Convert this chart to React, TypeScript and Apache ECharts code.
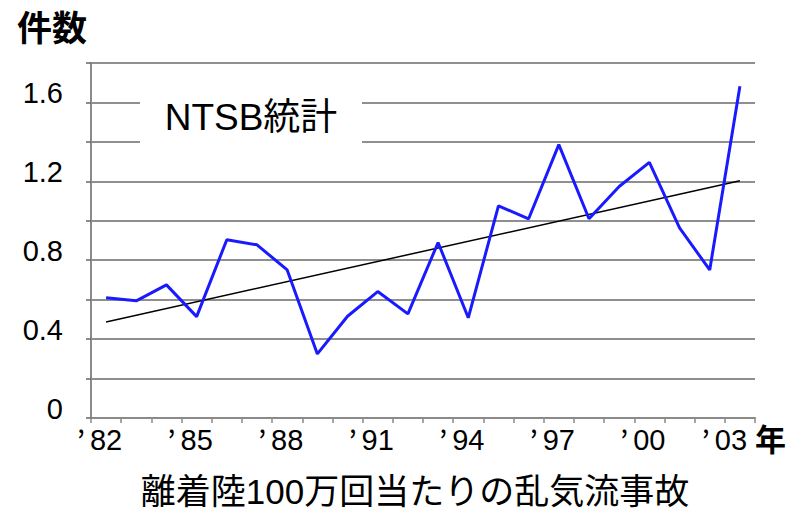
import React, { useEffect, useRef } from "react";
import * as echarts from "echarts";

const years = ["1982","1983","1984","1985","1986","1987","1988","1989","1990","1991","1992","1993","1994","1995","1996","1997","1998","1999","2000","2001","2002","2003"];
const accidents = [0.61,0.594,0.675,0.514,0.904,0.878,0.751,0.325,0.516,0.641,0.528,0.89,0.508,1.076,1.01,1.386,1.01,1.174,1.296,0.964,0.751,1.682];
const trend: [number, number][] = [[0, 0.487], [21, 1.203]];
const yTickLabels: Record<string, string> = { "0": "0", "4": "0.4", "8": "0.8", "12": "1.2", "16": "1.6" };
const titleText = "件数";
const boxText = "NTSB統計";
const xUnit = "年";
const bottomText = "離着陸100万回当たりの乱気流事故";

const FONT = "'Liberation Sans', 'Noto Sans CJK JP', sans-serif";
const CJK = "'Noto Sans CJK JP', sans-serif";

export default function App() {
  const ref = useRef<HTMLDivElement>(null);
  useEffect(() => {
    if (!ref.current) return;
    const chart = echarts.init(ref.current, null, { renderer: "svg" });
    chart.setOption({
      animation: false,
      backgroundColor: "#ffffff",
      textStyle: { fontFamily: FONT },
      grid: { left: 91, right: 46, top: 63, bottom: 91, containLabel: false },
      xAxis: {
        type: "category",
        data: years,
        boundaryGap: true,
        axisLine: { show: true, lineStyle: { color: "#8a8a8a", width: 2 } },
        axisTick: { show: true, interval: 0, length: 5, lineStyle: { color: "#8a8a8a", width: 1.5 } },
        axisLabel: {
          interval: 2,
          margin: 7,
          color: "#000",
          fontFamily: FONT,
          fontSize: 29,
          formatter: (v: string, i: number) => {
            const s = v.slice(2);
            return i === years.length - 1 ? `{q|’}{d|${s}}{e|}` : `{q|’}{d|${s}}{p|}`;
          },
          rich: {
            q: { width: 18, fontSize: 30, color: "#000", fontFamily: CJK },
            d: { fontSize: 29, color: "#000", fontFamily: FONT },
            p: { width: 18 },
            e: { width: 36 },
          },
        },
        splitLine: { show: false },
      },
      yAxis: {
        type: "value",
        min: 0,
        max: 1.8,
        interval: 0.2,
        axisLine: { show: true, lineStyle: { color: "#8a8a8a", width: 2 } },
        axisTick: { show: true, length: 5, lineStyle: { color: "#666", width: 1.5 } },
        axisLabel: {
          margin: 28,
          color: "#000",
          fontFamily: FONT,
          fontSize: 29,
          verticalAlign: "bottom",
          lineHeight: 18,
          formatter: (v: number) => yTickLabels[String(Math.round(v * 10))] ?? "",
        },
        splitLine: { show: true, lineStyle: { color: "#6a6a6a", width: 1.5 } },
      },
      series: [
        {
          type: "line",
          data: trend,
          symbol: "none",
          lineStyle: { color: "#000", width: 1.5 },
          z: 3,
        },
        {
          type: "line",
          data: accidents,
          symbol: "none",
          lineStyle: { color: "#1a1aff", width: 3 },
          z: 4,
        },
      ],
      graphic: [
        {
          type: "text",
          left: 17,
          top: 8,
          style: { text: titleText, fontSize: 35, fontWeight: "bold", fill: "#000", fontFamily: CJK },
        },
        {
          type: "rect",
          shape: { x: 140, y: 94, width: 222, height: 56 },
          style: { fill: "#ffffff" },
          z: 10,
        },
        {
          type: "text",
          x: 251,
          y: 117,
          style: { text: boxText, fontSize: 37, fill: "#000", fontFamily: FONT, align: "center", verticalAlign: "middle" },
          z: 11,
        },
        {
          type: "text",
          left: 755,
          top: 422,
          style: { text: xUnit, fontSize: 31, fontWeight: "bold", fill: "#000", fontFamily: CJK },
        },
        {
          type: "text",
          x: 415,
          y: 491,
          style: { text: bottomText, fontSize: 35, lineHeight: 30, fill: "#000", fontFamily: FONT, align: "center", verticalAlign: "middle" },
        },
      ],
    });
    return () => chart.dispose();
  }, []);
  return <div ref={ref} style={{ width: 801, height: 509, position: "absolute", left: 0, top: 0 }} />;
}
